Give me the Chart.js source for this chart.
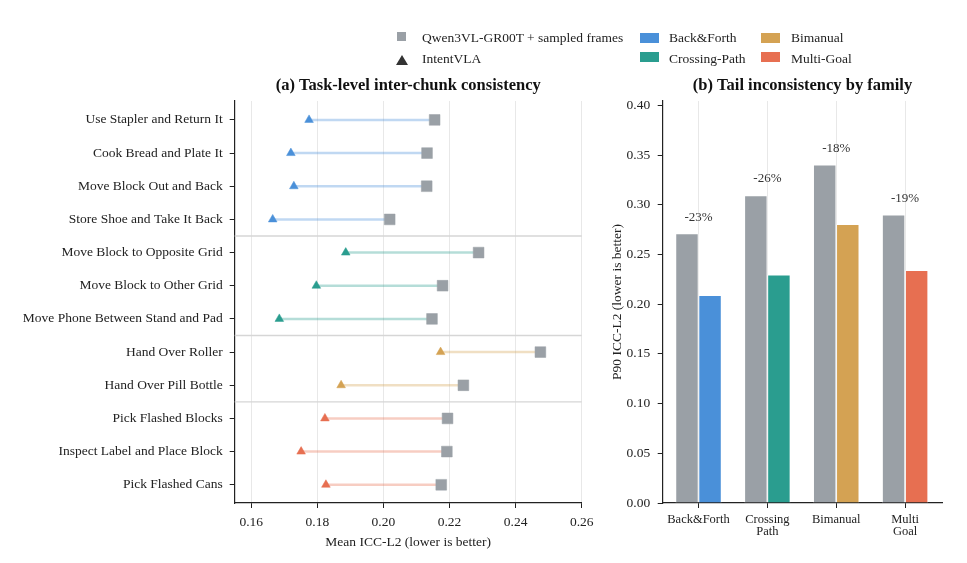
<!DOCTYPE html>
<html>
<head>
<meta charset="utf-8">
<script src="https://cdn.jsdelivr.net/npm/chart.js@4.4.1/dist/chart.umd.min.js"></script>
<style>
  body { margin: 0; background: #fff; width: 967px; height: 563px; position: relative; overflow: hidden;
         font-family: 'Liberation Serif', serif; color: #222; }
  #taskChart { position: absolute; left: 0; top: 0; }
  #familyChart { position: absolute; left: 600px; top: 0; }
  .lg-text { position: absolute; font-size: 13.5px; line-height: 16px; white-space: nowrap; }
  .lg-box { position: absolute; }
  .lg-tri { position: absolute; width: 12px; height: 10px; background: #333;
            clip-path: polygon(50% 0, 100% 100%, 0 100%); }
</style>
</head>
<body>
<canvas id="taskChart" width="600" height="563"></canvas>
<canvas id="familyChart" width="367" height="563"></canvas>

<!-- legend -->
<div class="lg-box" style="left:397px;top:32px;width:9px;height:9px;background:#9aa0a6"></div>
<div class="lg-text" style="left:422px;top:30px">Qwen3VL-GR00T + sampled frames</div>
<div class="lg-tri" style="left:396px;top:55px"></div>
<div class="lg-text" style="left:422px;top:51px">IntentVLA</div>
<div class="lg-box" style="left:640px;top:33px;width:19px;height:10px;background:#4a90d9"></div>
<div class="lg-text" style="left:669px;top:30px">Back&amp;Forth</div>
<div class="lg-box" style="left:640px;top:52px;width:19px;height:10px;background:#2a9d8f"></div>
<div class="lg-text" style="left:669px;top:51px">Crossing-Path</div>
<div class="lg-box" style="left:761px;top:33px;width:19px;height:10px;background:#d4a253"></div>
<div class="lg-text" style="left:791px;top:30px">Bimanual</div>
<div class="lg-box" style="left:761px;top:52px;width:19px;height:10px;background:#e76f51"></div>
<div class="lg-text" style="left:791px;top:51px">Multi-Goal</div>

<script>
// ---- data ----
const tasks = [
  'Use Stapler and Return It', 'Cook Bread and Plate It', 'Move Block Out and Back', 'Store Shoe and Take It Back',
  'Move Block to Opposite Grid', 'Move Block to Other Grid', 'Move Phone Between Stand and Pad',
  'Hand Over Roller', 'Hand Over Pill Bottle',
  'Pick Flashed Blocks', 'Inspect Label and Place Block', 'Pick Flashed Cans'
];
const taskFamily = [
  'Back&Forth', 'Back&Forth', 'Back&Forth', 'Back&Forth',
  'Crossing-Path', 'Crossing-Path', 'Crossing-Path',
  'Bimanual', 'Bimanual',
  'Multi-Goal', 'Multi-Goal', 'Multi-Goal'
];
const baselineMean = [0.2155, 0.2132, 0.2131, 0.2019, 0.2288, 0.2179, 0.2147, 0.2475, 0.2242, 0.2194, 0.2192, 0.2175];
const intentMean   = [0.1775, 0.1720, 0.1729, 0.1665, 0.1886, 0.1797, 0.1685, 0.2173, 0.1872, 0.1823, 0.1751, 0.1826];
const meanTicks = [0.16, 0.18, 0.20, 0.22, 0.24, 0.26];

const families = ['Back&Forth', 'Crossing-Path', 'Bimanual', 'Multi-Goal'];
const familyTickLabels = ['Back&Forth', ['Crossing', 'Path'], 'Bimanual', ['Multi', 'Goal']];
const baselineP90 = [0.2712, 0.3095, 0.3404, 0.2900];
const intentP90   = [0.2090, 0.2298, 0.2806, 0.2342];
const dropLabels  = ['-23%', '-26%', '-18%', '-19%'];
const p90Ticks = [0, 0.05, 0.10, 0.15, 0.20, 0.25, 0.30, 0.35, 0.40];

// ---- styles ----
const FONT = 'Liberation Serif';
const INK = '#222';
const baseGray = '#9aa0a6';
const familyColors = {
  'Back&Forth': '#4a90d9',
  'Crossing-Path': '#2a9d8f',
  'Bimanual': '#d4a253',
  'Multi-Goal': '#e76f51'
};
function tint(hex, a) {
  const n = parseInt(hex.slice(1), 16);
  return `rgba(${n >> 16},${(n >> 8) & 255},${n & 255},${a})`;
}

// panel title drawn above the plot area
function panelTitle(text) {
  return {
    id: 'panelTitle',
    afterDraw(chart) {
      const { ctx, chartArea: a } = chart;
      ctx.save();
      ctx.font = `bold 16.5px "${FONT}"`;
      ctx.fillStyle = '#111';
      ctx.textAlign = 'center';
      ctx.textBaseline = 'middle';
      ctx.fillText(text, (a.left + a.right) / 2, a.top - 15);
      ctx.restore();
    }
  };
}

// thin separators between task families
const familyBreaks = {
  id: 'familyBreaks',
  beforeDatasetsDraw(chart) {
    const { ctx, chartArea: a, scales } = chart;
    ctx.save();
    ctx.strokeStyle = '#d6d6d6';
    ctx.lineWidth = 1.3;
    taskFamily.forEach((f, i) => {
      if (i < taskFamily.length - 1 && taskFamily[i + 1] !== f) {
        const y = scales.y.getPixelForValue(i + 0.5);
        ctx.beginPath();
        ctx.moveTo(a.left, y);
        ctx.lineTo(a.right, y);
        ctx.stroke();
      }
    });
    ctx.restore();
  }
};

const tickFont = { family: FONT, size: 13.5 };

// ---- (a) dumbbell chart ----
const segments = tasks.map((t, i) => ({
  type: 'scatter',
  data: [{ x: intentMean[i], y: i }, { x: baselineMean[i], y: i }],
  showLine: true,
  borderColor: tint(familyColors[taskFamily[i]], 0.35),
  borderWidth: 2.5,
  pointRadius: 0,
  order: 3
}));

new Chart(document.getElementById('taskChart'), {
  type: 'scatter',
  data: {
    datasets: [
      ...segments,
      {
        label: 'IntentVLA',
        data: tasks.map((t, i) => ({ x: intentMean[i], y: i })),
        pointStyle: 'triangle',
        pointRadius: 5,
        pointBackgroundColor: taskFamily.map(f => familyColors[f]),
        pointBorderColor: taskFamily.map(f => familyColors[f]),
        pointBorderWidth: 0.5,
        order: 2
      },
      {
        label: 'Qwen3VL-GR00T + sampled frames',
        data: tasks.map((t, i) => ({ x: baselineMean[i], y: i })),
        pointStyle: 'rect',
        pointRadius: 7.6,
        pointBackgroundColor: baseGray,
        pointBorderColor: baseGray,
        pointBorderWidth: 0.5,
        order: 1
      }
    ]
  },
  options: {
    responsive: false,
    animation: false,
    events: [],
    layout: { padding: { top: 101, right: 18.3, left: 0, bottom: 0 } },
    plugins: { legend: { display: false }, tooltip: { enabled: false } },
    scales: {
      x: {
        type: 'linear',
        min: 0.155,
        max: 0.26,
        afterBuildTicks: s => { s.ticks = meanTicks.map(v => ({ value: v })); },
        afterFit: s => { s.height = 60; },
        ticks: { callback: v => v.toFixed(2), font: tickFont, color: INK, padding: 6, maxRotation: 0, autoSkip: false },
        grid: { color: '#e8e8e8', lineWidth: 1, tickLength: 5, tickColor: INK },
        border: { color: INK, width: 1.2 },
        title: { display: true, text: 'Mean ICC-L2 (lower is better)', font: tickFont, color: INK, padding: { top: 0, bottom: 12 } }
      },
      y: {
        type: 'linear',
        reverse: true,
        min: -0.57,
        max: 11.55,
        afterBuildTicks: s => { s.ticks = tasks.map((t, i) => ({ value: i })); },
        afterFit: s => { s.width = 234.7; },
        ticks: { callback: v => tasks[v], font: tickFont, color: INK, padding: 7, autoSkip: false },
        grid: { drawOnChartArea: false, tickLength: 5, tickColor: INK },
        border: { color: INK, width: 1.2 }
      }
    }
  },
  plugins: [panelTitle('(a) Task-level inter-chunk consistency'), familyBreaks]
});

// ---- (b) grouped bars ----
const dropText = {
  id: 'dropText',
  afterDatasetsDraw(chart) {
    const { ctx, scales } = chart;
    ctx.save();
    ctx.font = `13px "${FONT}"`;
    ctx.fillStyle = '#333';
    ctx.textAlign = 'center';
    ctx.textBaseline = 'middle';
    dropLabels.forEach((lab, i) => {
      ctx.fillText(lab, scales.x.getPixelForValue(i), scales.y.getPixelForValue(baselineP90[i] + 0.0165));
    });
    ctx.restore();
  }
};

new Chart(document.getElementById('familyChart'), {
  type: 'bar',
  data: {
    datasets: [
      {
        label: 'Qwen3VL-GR00T + sampled frames',
        data: families.map((f, i) => ({ x: i, y: baselineP90[i] })),
        backgroundColor: baseGray,
        borderColor: '#fff',
        borderWidth: 0.8
      },
      {
        label: 'IntentVLA',
        data: families.map((f, i) => ({ x: i, y: intentP90[i] })),
        backgroundColor: families.map(f => familyColors[f]),
        borderColor: '#fff',
        borderWidth: 0.8
      }
    ]
  },
  options: {
    responsive: false,
    animation: false,
    events: [],
    datasets: { bar: { categoryPercentage: 0.67, barPercentage: 1.0 } },
    layout: { padding: { top: 101, right: 24.7, left: 0, bottom: 0 } },
    plugins: { legend: { display: false }, tooltip: { enabled: false } },
    scales: {
      x: {
        type: 'linear',
        offset: false,
        min: -0.52,
        max: 3.54,
        afterBuildTicks: s => { s.ticks = families.map((f, i) => ({ value: i })); },
        afterFit: s => { s.height = 60; },
        ticks: { callback: v => familyTickLabels[v], font: { family: FONT, size: 12.5, lineHeight: 1.0 }, color: INK, padding: 5, maxRotation: 0, autoSkip: false },
        grid: { offset: false, color: '#e8e8e8', lineWidth: 1, tickLength: 5, tickColor: INK },
        border: { color: INK, width: 1.2 }
      },
      y: {
        min: 0,
        max: 0.4045,
        afterBuildTicks: s => { s.ticks = p90Ticks.map(v => ({ value: v })); },
        afterFit: s => { s.width = 62.7; },
        ticks: { callback: v => v.toFixed(2), font: tickFont, color: INK, padding: 7.5, autoSkip: false },
        grid: { drawOnChartArea: false, tickLength: 5, tickColor: INK },
        border: { color: INK, width: 1.2 },
        title: { display: true, text: 'P90 ICC-L2 (lower is better)', font: tickFont, color: INK, padding: { top: 9, bottom: 0 } }
      }
    }
  },
  plugins: [panelTitle('(b) Tail inconsistency by family'), dropText]
});
</script>
</body>
</html>
